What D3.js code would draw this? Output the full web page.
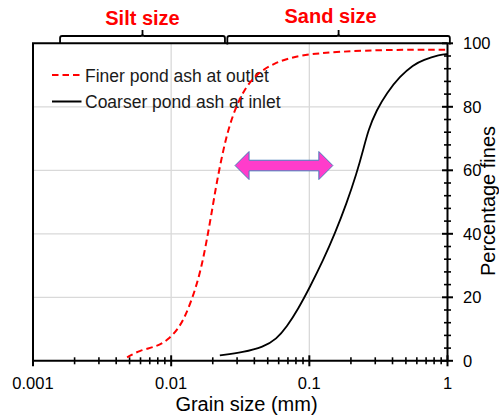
<!DOCTYPE html>
<html>
<head>
<meta charset="utf-8">
<script src="https://cdn.jsdelivr.net/npm/d3@7"></script>
<style>
  body { margin: 0; background: #fff; }
  svg { display: block; font-family: "Liberation Sans", Arial, sans-serif; }
</style>
</head>
<body>
<div id="chart"></div>
<script>
// grain size (mm) vs percentage fines
var finerSize = [0.0048, 0.0059, 0.0079, 0.0095, 0.0113, 0.0129, 0.0149, 0.0166, 0.0181, 0.0196,
                 0.0213, 0.0238, 0.0266, 0.0315, 0.0393, 0.0548, 0.0855, 0.166, 0.383, 0.99];
var finerPct  = [1.1, 3.3, 4.5, 6.6, 10.1, 14.8, 22.2, 29.6, 38, 46.4,
                 55.9, 66.4, 74.8, 83.2, 89.6, 93.8, 96.4, 97.4, 98, 98];
var coarserSize = [0.0225, 0.0333, 0.0464, 0.058, 0.0685, 0.0832, 0.1009, 0.1261, 0.1532, 0.1862,
                   0.2199, 0.2455, 0.2669, 0.3069, 0.3624, 0.4525, 0.565, 0.667, 0.881, 1.0];
var coarserPct  = [1.7, 2.7, 4.3, 6.9, 10.6, 16.4, 23.2, 31.7, 40.1, 49.6,
                   59.0, 66.4, 72.7, 79.0, 84.3, 89.6, 93.2, 94.8, 96.4, 96.6];
var seriesNames = ["Finer pond ash at outlet", "Coarser pond ash at inlet"];
var xTickLabels = ["0.001", "0.01", "0.1", "1"];
var yTickLabels = [0, 20, 40, 60, 80, 100];
var sizeRanges = [
  {name: "Silt size", from: 0.00157, to: 0.0245},
  {name: "Sand size", from: 0.0255, to: 1.04}
];
var arrowRange = [0.029, 0.148], arrowPct = 61.5;

var width = 499, height = 416;
var svg = d3.select("#chart").append("svg")
  .attr("width", width).attr("height", height);

var x = d3.scaleLog().domain([0.001, 1]).range([33, 447.5]);
var y = d3.scaleLinear().domain([0, 100]).range([360.8, 43.3]);
var x0 = x.range()[0], x1 = x.range()[1], yb = y(0), yt = y(100);

// grid
svg.append("g").selectAll("line.vgrid")
  .data([0.01, 0.1]).enter().append("line")
  .attr("x1", function(d){ return x(d); }).attr("x2", function(d){ return x(d); })
  .attr("y1", yt).attr("y2", yb)
  .attr("stroke", "#d9d9d9").attr("stroke-width", 1.3);
svg.append("g").selectAll("line.hgrid")
  .data([20, 40, 60, 80]).enter().append("line")
  .attr("x1", x0).attr("x2", x1)
  .attr("y1", function(d){ return y(d); }).attr("y2", function(d){ return y(d); })
  .attr("stroke", "#d9d9d9").attr("stroke-width", 1.3);

// frame: left and top
svg.append("path")
  .attr("d", "M" + x0 + "," + yb + "V" + yt + "H" + x1)
  .attr("fill", "none").attr("stroke", "#000").attr("stroke-width", 2);

// x axis with crossing ticks
var xAxis = svg.append("g");
xAxis.append("line").attr("x1", x0).attr("x2", x1).attr("y1", yb).attr("y2", yb)
  .attr("stroke", "#000").attr("stroke-width", 2);
xAxis.selectAll("line.tick").data(x.ticks()).enter().append("line")
  .attr("x1", function(d){ return x(d); }).attr("x2", function(d){ return x(d); })
  .attr("y1", function(d){ return yb - (isMajor(d) ? 5.5 : 3.5); })
  .attr("y2", function(d){ return yb + (isMajor(d) ? 5.5 : 3.5); })
  .attr("stroke", "#000").attr("stroke-width", function(d){ return isMajor(d) ? 2 : 1.6; });
xAxis.selectAll("text").data(xTickLabels).enter().append("text")
  .attr("x", function(d){ return x(+d); }).attr("y", 388.5)
  .attr("text-anchor", "middle").style("font-size", "16.5px")
  .text(function(d){ return d; });
svg.append("text").attr("x", 246.5).attr("y", 411)
  .attr("text-anchor", "middle").style("font-size", "20px")
  .text("Grain size (mm)");

function isMajor(d){
  var l = Math.log10(d);
  return Math.abs(l - Math.round(l)) < 1e-6;
}

// y axis on the right
var yAxis = svg.append("g");
yAxis.append("line").attr("x1", x1).attr("x2", x1).attr("y1", yt).attr("y2", yb)
  .attr("stroke", "#000").attr("stroke-width", 2);
yAxis.selectAll("line.tick").data(d3.range(0, 101, 4)).enter().append("line")
  .attr("y1", function(d){ return y(d); }).attr("y2", function(d){ return y(d); })
  .attr("x1", function(d){ return x1 - (d % 20 === 0 ? 5.5 : 3.5); })
  .attr("x2", function(d){ return x1 + (d % 20 === 0 ? 5.5 : 3.5); })
  .attr("stroke", "#000").attr("stroke-width", function(d){ return d % 20 === 0 ? 2 : 1.6; });
yAxis.selectAll("text").data(yTickLabels).enter().append("text")
  .attr("x", 463).attr("y", function(d){ return y(d); }).attr("dy", "0.36em")
  .style("font-size", "16.5px")
  .text(function(d){ return d; });
// pulled in a few px so the descender is not clipped
svg.append("text")
  .attr("transform", "translate(494.5," + 201 + ") rotate(-90)")
  .attr("text-anchor", "middle").style("font-size", "20px")
  .text("Percentage fines");

// size braces above the plot
var braceTop = 36, nubTop = 30, r = 2;
sizeRanges.forEach(function(s, i){
  var a = x(s.from), b = x(s.to), m = (a + b) / 2;
  var endY = i === 1 ? 44.5 : 43.5;
  var d = "M" + a + "," + endY + "V" + (braceTop + r) + "Q" + a + "," + braceTop + " " + (a + r) + "," + braceTop +
          "H" + (m - r) + "Q" + m + "," + braceTop + " " + m + "," + (braceTop - r) + "V" + nubTop +
          "M" + m + "," + (braceTop - r) + "Q" + m + "," + braceTop + " " + (m + r) + "," + braceTop +
          "H" + (b - r) + "Q" + b + "," + braceTop + " " + b + "," + (braceTop + r) + "V" + endY;
  svg.append("path").attr("d", d).attr("fill", "none")
    .attr("stroke", "#000").attr("stroke-width", 1.8);
  svg.append("text")
    .attr("x", i === 0 ? m : m - 8).attr("y", i === 0 ? 25 : 23)
    .attr("text-anchor", "middle")
    .style("font-size", "20px").style("font-weight", "bold").attr("fill", "#ff0000")
    .text(s.name);
});

// legend
var legend = svg.append("g");
[0, 1].forEach(function(i){
  var ly = i === 0 ? 75 : 101.5;
  legend.append("line").attr("x1", 52).attr("x2", 81.5).attr("y1", ly).attr("y2", ly)
    .attr("stroke", i === 0 ? "#ff0000" : "#000").attr("stroke-width", 2)
    .attr("stroke-dasharray", i === 0 ? "6.5,4" : null);
  legend.append("text").attr("x", 85).attr("y", ly + 6.5)
    .style("font-size", "17.5px").attr("fill", "#1a1a1a")
    .text(seriesNames[i]);
});

// curves
var line = d3.line()
  .x(function(d){ return x(d[0]); })
  .y(function(d){ return y(d[1]); })
  .curve(d3.curveBasis);

svg.append("path")
  .datum(finerSize.map(function(s, i){ return [s, finerPct[i]]; }))
  .attr("d", line).attr("fill", "none")
  .attr("stroke", "#ff0000").attr("stroke-width", 2).attr("stroke-dasharray", "6.5,4");
svg.append("path")
  .datum(coarserSize.map(function(s, i){ return [s, coarserPct[i]]; }))
  .attr("d", line).attr("fill", "none")
  .attr("stroke", "#000").attr("stroke-width", 1.8);

// double-headed arrow
var ax0 = x(arrowRange[0]), ax1 = x(arrowRange[1]), ay = y(arrowPct);
var hl = 14, hh = 14, bh = 5.3;
var pts = [[ax0, ay], [ax0 + hl, ay - hh], [ax0 + hl, ay - bh], [ax1 - hl, ay - bh], [ax1 - hl, ay - hh],
           [ax1, ay], [ax1 - hl, ay + hh], [ax1 - hl, ay + bh], [ax0 + hl, ay + bh], [ax0 + hl, ay + hh]];
svg.append("polygon")
  .attr("points", pts.map(function(p){ return p.join(","); }).join(" "))
  .attr("fill", "#ff3ccb").attr("stroke", "#4a7ebb").attr("stroke-width", 1);
</script>
</body>
</html>
